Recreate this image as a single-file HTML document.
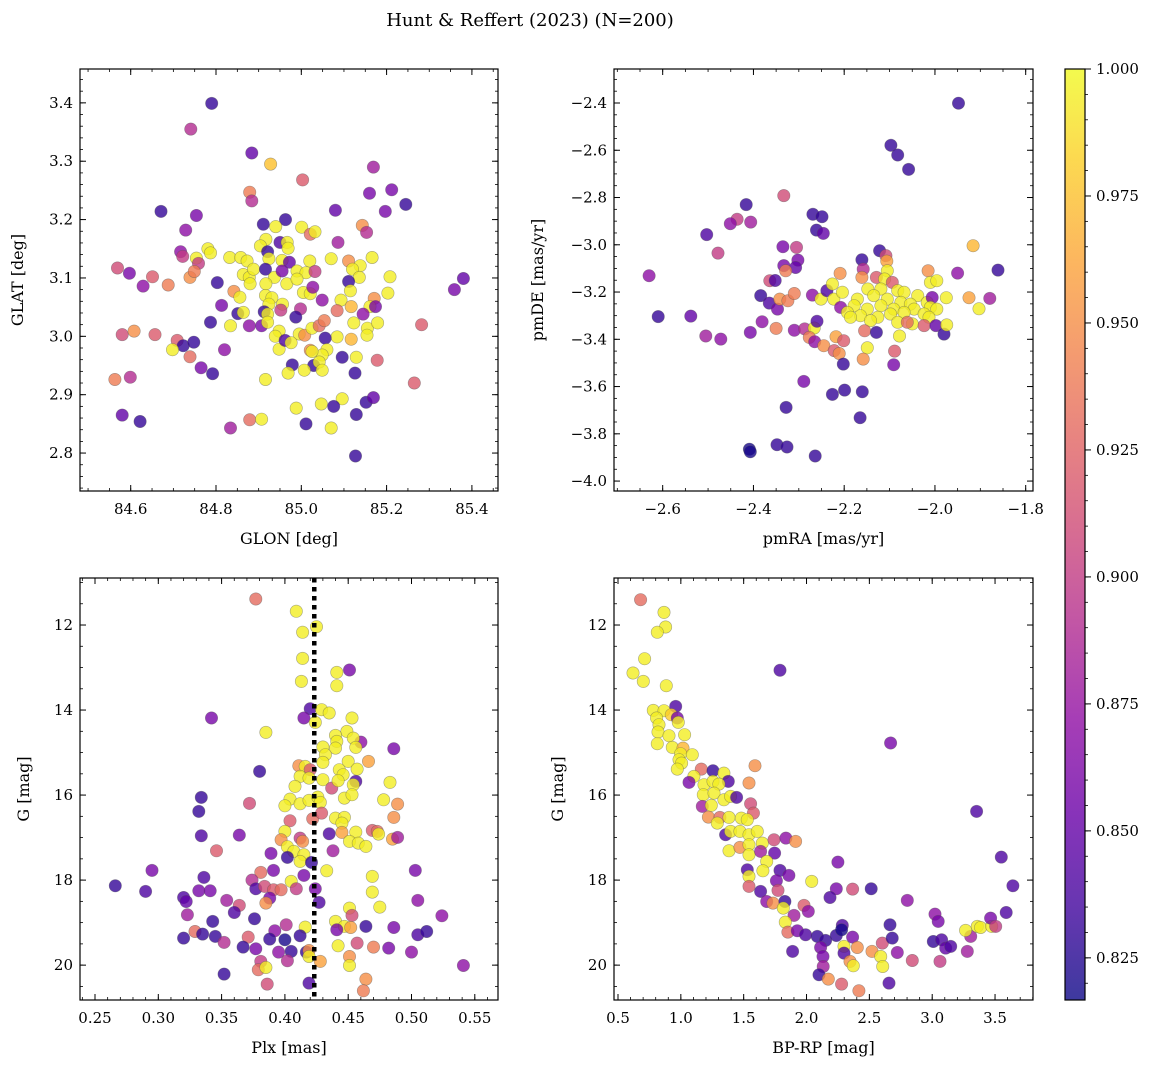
<!DOCTYPE html>
<html><head><meta charset="utf-8"><title>Hunt & Reffert (2023)</title>
<style>
html,body{margin:0;padding:0;background:#fff;}
svg{display:block;font-family:"DejaVu Serif","Liberation Serif",serif;}
</style></head>
<body>
<svg id="fig" width="1161" height="1068" viewBox="0 0 1161 1068" xmlns="http://www.w3.org/2000/svg">
<text x="530" y="26" text-anchor="middle" font-size="18">Hunt &amp; Reffert (2023) (N=200)</text>
</svg>
<script>
// ---------- Panel A: GLON vs GLAT ----------
const glon=[84.790,84.741,84.884,84.928,85.003,85.169,84.879,84.884,85.160,85.212,85.245,85.080,85.197,84.671,84.754,84.729,84.911,84.963,84.940,85.001,85.021,85.032,85.143,85.153,85.086,84.917,84.904,84.950,84.967,84.969,84.921,84.717,84.722,84.781,84.787,84.754,84.759,84.832,84.858,84.873,84.924,84.955,84.972,85.020,85.070,85.166,85.111,85.138,85.120,84.569,84.597,84.651,84.629,84.688,84.739,84.749,84.803,84.864,84.878,84.888,84.916,84.937,84.955,84.990,85.011,85.032,85.136,85.111,85.208,85.380,85.359,84.880,84.917,84.966,84.990,84.842,84.856,84.916,84.931,85.005,85.021,85.027,85.049,85.115,85.203,85.171,85.093,85.117,85.161,85.174,84.813,84.924,84.956,84.952,84.998,84.913,84.851,84.864,84.921,84.987,85.084,85.145,84.787,84.834,84.878,84.907,84.921,84.948,84.939,84.995,85.008,85.025,85.042,85.054,85.123,85.155,85.179,85.154,85.084,85.117,85.056,84.580,84.608,84.657,84.709,84.723,84.748,84.698,84.820,84.948,84.962,84.976,85.021,85.060,85.049,85.025,85.129,85.096,85.178,84.739,84.765,84.792,84.979,85.029,85.042,85.049,85.007,84.969,85.126,84.563,84.599,84.916,85.265,85.096,85.047,85.076,84.988,85.152,85.169,85.129,84.580,84.622,84.879,84.907,85.011,85.070,84.834,85.282,85.127];
const glat=[3.399,3.355,3.314,3.295,3.268,3.290,3.247,3.232,3.245,3.251,3.226,3.216,3.214,3.214,3.207,3.182,3.192,3.200,3.188,3.187,3.175,3.179,3.190,3.178,3.161,3.166,3.155,3.161,3.161,3.151,3.145,3.145,3.137,3.150,3.143,3.134,3.125,3.135,3.135,3.129,3.133,3.130,3.127,3.129,3.133,3.135,3.129,3.121,3.115,3.117,3.108,3.102,3.086,3.088,3.101,3.111,3.092,3.106,3.101,3.115,3.115,3.101,3.112,3.112,3.109,3.111,3.101,3.094,3.102,3.099,3.080,3.090,3.090,3.090,3.098,3.077,3.067,3.070,3.066,3.075,3.073,3.084,3.062,3.078,3.074,3.065,3.062,3.051,3.051,3.051,3.053,3.055,3.055,3.045,3.047,3.042,3.039,3.041,3.038,3.033,3.044,3.038,3.024,3.018,3.018,3.018,3.024,3.009,3.000,3.004,3.002,3.014,3.018,3.027,3.023,3.014,3.023,3.002,2.999,2.995,2.997,3.003,3.009,3.003,2.993,2.984,2.990,2.977,2.977,2.978,2.993,2.989,2.976,2.977,2.968,2.974,2.964,2.964,2.959,2.965,2.946,2.936,2.951,2.950,2.956,2.942,2.942,2.937,2.937,2.926,2.930,2.926,2.920,2.893,2.884,2.880,2.877,2.887,2.895,2.866,2.865,2.854,2.857,2.858,2.850,2.843,2.843,3.020,2.795];
const probA=[.83,.89,.85,.975,.92,.88,.94,.89,.86,.86,.83,.85,.86,.83,.86,.87,.83,.83,.995,.995,.93,.995,.95,.89,.88,.995,.995,.84,.995,.995,.83,.87,.90,.995,.995,.995,.90,.995,.995,.995,.995,.995,.85,.995,.995,.995,.95,.995,.995,.91,.86,.92,.87,.94,.95,.94,.83,.995,.995,.995,.83,.995,.86,.995,.995,.90,.995,.83,.995,.85,.86,.995,.995,.995,.995,.95,.995,.995,.995,.995,.995,.87,.87,.995,.995,.95,.995,.97,.995,.86,.86,.995,.995,.90,.89,.83,.83,.995,.995,.83,.93,.87,.83,.995,.87,.86,.995,.995,.995,.995,.95,.995,.93,.94,.995,.995,.995,.995,.995,.97,.83,.91,.95,.92,.92,.83,.83,.995,.87,.995,.84,.995,.95,.995,.995,.995,.995,.83,.92,.93,.86,.83,.83,.83,.995,.995,.995,.995,.83,.94,.89,.995,.92,.995,.995,.83,.995,.83,.85,.83,.85,.83,.93,.995,.83,.995,.88,.92,.83];
const ticksAx=[84.6,84.8,85.0,85.2,85.4];
const ticksAy=[2.8,2.9,3.0,3.1,3.2,3.3,3.4];

// ---------- Panel B: pmRA vs pmDE ----------
const pmra=[-1.948,-2.097,-2.082,-2.058,-2.333,-2.416,-2.269,-2.249,-2.261,-2.246,-2.436,-2.451,-2.406,-2.503,-2.478,-2.630,-2.335,-2.305,-2.302,-2.333,-2.307,-2.329,-2.364,-2.352,-2.384,-2.365,-2.347,-2.342,-2.324,-2.310,-2.270,-2.251,-2.238,-2.226,-2.223,-2.204,-2.209,-2.208,-2.161,-2.158,-2.161,-2.122,-2.108,-2.106,-2.105,-2.129,-2.111,-2.094,-2.148,-2.119,-2.082,-2.068,-2.038,-2.171,-2.135,-2.105,-2.075,-2.054,-2.017,-2.006,-2.178,-2.149,-2.119,-2.091,-2.046,-2.010,-1.996,-2.193,-2.164,-2.126,-2.098,-2.068,-2.024,-2.186,-2.142,-2.082,-2.050,-2.013,-2.024,-2.061,-1.998,-1.980,-1.974,-2.015,-2.010,-1.996,-1.975,-1.950,-1.916,-1.861,-1.925,-1.903,-1.879,-2.610,-2.538,-2.505,-2.472,-2.407,-2.381,-2.350,-2.310,-2.287,-2.266,-2.260,-2.277,-2.265,-2.245,-2.218,-2.201,-2.222,-2.211,-2.202,-2.155,-2.129,-2.149,-2.158,-2.089,-2.078,-2.091,-2.289,-2.226,-2.199,-2.160,-2.328,-2.165,-2.409,-2.407,-2.348,-2.326,-2.264];
const pmde=[-2.401,-2.579,-2.620,-2.681,-2.792,-2.830,-2.871,-2.881,-2.938,-2.952,-2.892,-2.911,-2.904,-2.957,-3.035,-3.131,-3.008,-3.011,-3.065,-3.088,-3.096,-3.110,-3.152,-3.151,-3.215,-3.247,-3.272,-3.230,-3.237,-3.206,-3.213,-3.230,-3.194,-3.166,-3.230,-3.201,-3.121,-3.265,-3.063,-3.103,-3.138,-3.025,-3.046,-3.069,-3.110,-3.138,-3.145,-3.159,-3.187,-3.187,-3.194,-3.201,-3.215,-3.230,-3.215,-3.230,-3.244,-3.251,-3.244,-3.223,-3.258,-3.272,-3.258,-3.272,-3.272,-3.265,-3.272,-3.286,-3.300,-3.307,-3.293,-3.286,-3.293,-3.307,-3.321,-3.328,-3.335,-3.307,-3.342,-3.328,-3.342,-3.378,-3.339,-3.110,-3.159,-3.152,-3.224,-3.120,-3.004,-3.107,-3.224,-3.271,-3.227,-3.304,-3.302,-3.386,-3.399,-3.371,-3.326,-3.354,-3.362,-3.356,-3.352,-3.324,-3.392,-3.410,-3.427,-3.389,-3.406,-3.448,-3.460,-3.505,-3.364,-3.371,-3.436,-3.484,-3.450,-3.386,-3.508,-3.578,-3.633,-3.615,-3.622,-3.688,-3.732,-3.865,-3.876,-3.846,-3.856,-3.894];
const probB=[.83,.83,.83,.83,.91,.83,.83,.83,.83,.85,.90,.87,.88,.84,.90,.87,.86,.90,.86,.86,.85,.94,.91,.84,.83,.84,.86,.95,.94,.94,.87,.995,.84,.995,.995,.995,.95,.87,.83,.89,.95,.83,.91,.96,.995,.92,.995,.92,.995,.995,.995,.995,.995,.995,.995,.995,.995,.995,.995,.86,.995,.995,.995,.995,.995,.995,.995,.995,.995,.995,.995,.995,.995,.995,.995,.995,.995,.995,.92,.93,.85,.83,.995,.95,.995,.995,.995,.87,.97,.83,.96,.995,.88,.83,.85,.88,.87,.86,.87,.94,.87,.89,.995,.84,.94,.87,.95,.96,.92,.92,.95,.83,.93,.83,.995,.95,.92,.995,.86,.86,.83,.83,.83,.83,.83,.82,.82,.83,.83,.83];
const ticksBx=[-2.6,-2.4,-2.2,-2.0,-1.8];
const ticksBy=[-4.0,-3.8,-3.6,-3.4,-3.2,-3.0,-2.8,-2.6,-2.4];

// ---------- Panel C: Plx vs G ----------
const plx=[.377,.409,.425,.414,.414,.413,.441,.441,.451,.342,.420,.415,.429,.435,.424,.453,.385,.449,.440,.441,.460,.454,.456,.430,.440,.432,.486,.380,.411,.416,.420,.430,.450,.466,.443,.457,.412,.419,.430,.446,.456,.437,.408,.442,.454,.483,.334,.332,.372,.404,.400,.412,.419,.426,.428,.447,.453,.478,.489,.486,.404,.422,.429,.440,.447,.445,.400,.397,.412,.414,.435,.445,.456,.469,.473,.474,.485,.489,.451,.458,.464,.334,.364,.346,.389,.402,.407,.415,.402,.412,.438,.421,.433,.295,.336,.381,.391,.415,.503,.469,.469,.266,.290,.332,.341,.374,.377,.384,.391,.397,.405,.409,.424,.320,.322,.354,.364,.388,.385,.427,.475,.451,.453,.505,.323,.360,.343,.376,.524,.401,.416,.440,.447,.452,.464,.486,.320,.329,.335,.345,.352,.371,.392,.388,.400,.412,.441,.505,.512,.367,.377,.395,.405,.417,.419,.419,.428,.442,.457,.470,.482,.500,.451,.451,.381,.379,.385,.402,.352,.541,.386,.419,.464,.462];
const gA=[11.388,11.678,12.039,12.172,12.784,13.325,13.114,13.427,13.059,14.188,13.968,14.188,13.992,14.070,14.290,14.188,14.525,14.502,14.596,14.737,14.753,14.659,14.878,14.870,14.894,15.051,14.910,15.443,15.310,15.325,15.404,15.231,15.208,15.208,15.404,15.388,15.561,15.600,15.639,15.521,15.678,15.835,15.796,15.662,15.757,15.702,16.055,16.384,16.196,16.094,16.251,16.204,16.125,16.047,16.172,16.070,15.992,16.110,16.212,16.525,16.604,16.557,16.423,16.541,16.525,16.659,16.855,17.051,17.012,17.090,16.910,16.878,16.870,16.831,16.855,16.917,17.035,16.996,17.090,17.129,17.208,16.957,16.941,17.310,17.372,17.215,17.325,17.404,17.466,17.561,17.310,17.584,17.780,17.772,17.937,17.819,17.772,17.890,17.772,17.913,18.282,18.133,18.266,18.251,18.251,18.000,18.204,18.149,18.227,18.227,18.031,18.204,18.204,18.408,18.502,18.478,18.596,18.423,18.541,18.525,18.635,18.659,18.831,18.478,18.815,18.761,18.972,18.910,18.839,19.051,19.106,18.972,19.090,19.114,19.090,19.114,19.364,19.208,19.270,19.325,19.466,19.341,19.192,19.388,19.404,19.310,19.168,19.286,19.208,19.576,19.615,19.694,19.678,19.694,19.655,19.796,19.913,19.545,19.482,19.576,19.600,19.694,19.796,20.008,19.913,20.110,20.055,19.898,20.211,20.008,20.447,20.423,20.329,20.604];
const probC=[.93,.995,.995,.995,.995,.995,.995,.995,.86,.86,.84,.86,.995,.995,.995,.995,.995,.995,.995,.995,.87,.995,.995,.995,.995,.995,.86,.83,.95,.995,.92,.995,.995,.96,.995,.995,.995,.995,.995,.995,.84,.91,.995,.995,.995,.995,.83,.83,.91,.995,.995,.995,.995,.995,.995,.995,.995,.995,.95,.95,.92,.93,.92,.995,.995,.995,.995,.95,.90,.95,.84,.96,.995,.92,.93,.995,.96,.88,.995,.995,.995,.84,.86,.92,.86,.995,.995,.995,.83,.995,.88,.83,.995,.86,.84,.93,.86,.86,.86,.995,.995,.83,.84,.86,.86,.89,.84,.91,.92,.93,.995,.90,.86,.84,.85,.88,.91,.86,.95,.84,.995,.995,.91,.87,.88,.84,.83,.83,.87,.89,.995,.995,.995,.96,.83,.86,.83,.93,.83,.83,.89,.92,.87,.83,.82,.83,.86,.84,.83,.83,.86,.87,.83,.83,.95,.995,.96,.995,.91,.94,.86,.87,.95,.995,.90,.93,.995,.89,.83,.87,.91,.84,.95,.94];
const ticksCx=[0.25,0.30,0.35,0.40,0.45,0.50,0.55];
const ticksCy=[12,14,16,18,20];
const plxMedian=[0.4232];

// ---------- Panel D: BP-RP vs G ----------
const bprp=[.680,.866,.879,.813,.712,.619,.701,.884,1.789,2.669,.959,.781,.866,.924,.972,.980,.807,.826,.818,.906,1.030,.813,.932,1.017,.998,1.091,.985,1.006,.972,1.163,1.256,1.343,1.104,1.065,1.378,1.542,1.590,1.184,1.256,1.303,1.179,1.264,1.343,1.396,1.444,1.171,1.242,1.555,1.577,1.219,1.311,1.383,1.481,1.529,1.290,1.356,1.396,1.470,1.542,1.608,1.648,1.741,1.836,1.913,1.383,1.470,1.542,1.542,1.635,1.746,1.683,1.529,1.542,1.542,1.653,1.789,1.860,1.760,2.041,2.250,2.515,2.367,2.237,2.187,1.635,1.683,1.773,1.733,1.828,1.815,1.900,1.980,2.014,1.831,1.852,1.927,1.993,2.086,2.152,2.237,2.285,2.279,2.367,1.889,2.112,2.131,2.298,2.298,2.404,2.346,2.372,2.133,2.099,2.173,2.279,2.417,2.521,2.590,2.606,2.603,2.664,2.682,2.722,2.842,2.802,2.656,3.009,3.075,3.107,3.147,3.022,3.048,3.062,3.279,3.306,3.266,3.359,3.385,3.473,3.465,3.505,3.589,3.642,3.550,3.353];
const gB=[11.404,11.702,12.047,12.172,12.792,13.129,13.325,13.427,13.066,14.776,13.914,14.008,14.016,14.110,14.188,14.290,14.188,14.345,14.517,14.604,14.580,14.792,14.878,14.894,15.027,15.051,15.168,15.247,15.388,15.388,15.427,15.482,15.561,15.702,15.678,15.717,15.310,15.757,15.678,15.741,15.992,15.953,16.110,16.031,16.055,16.267,16.243,16.204,16.423,16.518,16.525,16.525,16.541,16.580,16.659,16.933,16.855,16.855,16.933,16.855,17.129,17.051,17.012,17.090,17.310,17.231,17.168,17.404,17.325,17.364,17.561,17.757,17.913,18.149,17.780,17.772,17.890,18.015,18.031,17.576,18.204,18.212,18.204,18.408,18.266,18.502,18.243,18.541,18.502,18.659,18.831,18.596,18.737,18.988,19.223,19.192,19.286,19.325,19.419,19.302,19.066,19.168,19.341,19.678,19.584,19.796,19.560,19.717,19.584,19.913,20.015,20.031,20.227,20.329,20.447,20.604,19.678,19.796,20.031,19.482,19.051,19.364,19.702,19.890,18.478,20.423,19.443,19.404,19.600,19.560,18.800,18.972,19.913,19.678,19.325,19.184,19.090,19.114,19.090,18.894,19.090,18.761,18.133,17.459,16.384];
const probD=[.93,.995,.995,.995,.995,.995,.995,.995,.84,.86,.84,.995,.995,.98,.86,.995,.995,.995,.995,.995,.995,.995,.995,.97,.995,.995,.995,.995,.995,.93,.83,.995,.995,.86,.84,.95,.95,.995,.995,.995,.995,.995,.995,.995,.84,.88,.995,.91,.92,.95,.93,.995,.995,.995,.995,.84,.995,.995,.995,.995,.995,.91,.87,.95,.995,.95,.995,.995,.88,.85,.995,.84,.995,.92,.995,.84,.86,.86,.995,.86,.83,.91,.86,.84,.84,.87,.91,.95,.83,.995,.88,.92,.87,.995,.93,.86,.84,.83,.83,.83,.84,.82,.86,.84,.86,.86,.995,.84,.95,.95,.995,.88,.83,.95,.92,.94,.95,.995,.995,.91,.83,.83,.87,.91,.87,.84,.83,.84,.85,.84,.87,.86,.90,.88,.88,.995,.995,.995,.995,.86,.90,.84,.84,.84,.84];
const ticksDx=[0.5,1.0,1.5,2.0,2.5,3.0,3.5];
const ticksDy=[12,14,16,18,20];

// ---------- Colorbar ----------
const cbarTicks=[0.825,0.850,0.875,0.900,0.925,0.950,0.975,1.000];
const cbarRange=[0.8167,1.0];

const NS="http://www.w3.org/2000/svg";
const svg=document.getElementById('fig');
function mk(tag,attrs,parent){const e=document.createElementNS(NS,tag);for(const k in attrs)e.setAttribute(k,attrs[k]);(parent||svg).appendChild(e);return e;}
const plasmaStops=["#0d0887","#41049d","#6a00a8","#8f0da4","#b12a90","#cc4778","#e16462","#f2844b","#fca636","#fcce25","#f0f921"];
function hex(h){return [parseInt(h.slice(1,3),16),parseInt(h.slice(3,5),16),parseInt(h.slice(5,7),16)];}
function plasma(t){t=Math.max(0,Math.min(1,t));const s=t*10,i=Math.min(9,Math.floor(s)),f=s-i;const a=hex(plasmaStops[i]),b=hex(plasmaStops[i+1]);return `rgb(${a.map((v,k)=>Math.round(v+(b[k]-v)*f)).join(',')})`;}
function pcol(p){return plasma((p-cbarRange[0])/(cbarRange[1]-cbarRange[0]));}
function fmt(v,d){const s=Math.abs(v).toFixed(d);return (v<0?'\u2212':'')+s;}

function panel(o){
  const g=mk('g',{});
  
  
  const sx=v=>o.L+(v-o.x0)/(o.x1-o.x0)*(o.R-o.L);
  const sy=v=>o.B-(v-o.y0)/(o.y1-o.y0)*(o.B-o.T);
  const cp=mk('clipPath',{id:'clip-'+o.name},g);
  mk('rect',{x:o.L,y:o.T,width:o.R-o.L,height:o.B-o.T},cp);
  const pts=mk('g',{'clip-path':`url(#clip-${o.name})`},g);
  
  
  for(let i=0;i<o.xs.length;i++){
    const c=mk('circle',{cx:sx(o.xs[i]).toFixed(1),cy:sy(o.ys[i]).toFixed(1),r:6.2,fill:pcol(o.ps[i]),'fill-opacity':0.8,stroke:'#555','stroke-opacity':0.5,'stroke-width':0.6},pts);
    
    
  }
  if(o.extra)o.extra(pts,sx,sy);
  const fr=mk('rect',{x:o.L,y:o.T,width:o.R-o.L,height:o.B-o.T,fill:'none',stroke:'#000','stroke-width':1.2},g);
  
  
  const lo=Math.min(o.x0,o.x1),hi=Math.max(o.x0,o.x1);
  for(let v=Math.ceil(lo/o.mx-1e-6)*o.mx;v<=hi+1e-9;v+=o.mx){const x=sx(v);mk('line',{x1:x,x2:x,y1:o.B,y2:o.B-3,stroke:'#000','stroke-width':0.8},g);mk('line',{x1:x,x2:x,y1:o.T,y2:o.T+3,stroke:'#000','stroke-width':0.8},g);}
  const ylo=Math.min(o.y0,o.y1),yhi=Math.max(o.y0,o.y1);
  for(let v=Math.ceil(ylo/o.my-1e-6)*o.my;v<=yhi+1e-9;v+=o.my){const y=sy(v);mk('line',{x1:o.L,x2:o.L+3,y1:y,y2:y,stroke:'#000','stroke-width':0.8},g);mk('line',{x1:o.R,x2:o.R-3,y1:y,y2:y,stroke:'#000','stroke-width':0.8},g);}
  o.tx.forEach(v=>{const x=sx(v);mk('line',{x1:x,x2:x,y1:o.B,y2:o.B-6,stroke:'#000','stroke-width':1},g);mk('line',{x1:x,x2:x,y1:o.T,y2:o.T+6,stroke:'#000','stroke-width':1},g);
    const t=mk('text',{x:x,y:o.B+23,'text-anchor':'middle','font-size':15},g);t.textContent=fmt(v,o.dx);
    });
  o.ty.forEach(v=>{const y=sy(v);mk('line',{x1:o.L,x2:o.L+6,y1:y,y2:y,stroke:'#000','stroke-width':1},g);mk('line',{x1:o.R,x2:o.R-6,y1:y,y2:y,stroke:'#000','stroke-width':1},g);
    const t=mk('text',{x:o.L-7,y:y+5,'text-anchor':'end','font-size':15},g);t.textContent=fmt(v,o.dy);
    });
  const xl=mk('text',{x:(o.L+o.R)/2,y:o.B+53,'text-anchor':'middle','font-size':16},g);xl.textContent=o.xlab;
  
  const yc=(o.T+o.B)/2;
  const yl=mk('text',{x:o.ylx,y:yc,'text-anchor':'middle','font-size':16,transform:`rotate(-90 ${o.ylx} ${yc})`},g);yl.textContent=o.ylab;
  
}

panel({name:'glon-glat-panel',L:80,R:498,T:69,B:491,x0:84.4811,x1:85.4612,y0:2.735,y1:3.458,xs:glon,ys:glat,ps:probA,tx:ticksAx,ty:ticksAy,dx:1,dy:1,mx:0.05,my:0.02,xlab:'GLON [deg]',ylab:'GLAT [deg]',ylx:23});
panel({name:'proper-motion-panel',L:614,R:1033,T:69,B:491,x0:-2.7073,x1:-1.7839,y0:-4.042,y1:-2.2561,xs:pmra,ys:pmde,ps:probB,tx:ticksBx,ty:ticksBy,dx:1,dy:1,mx:0.05,my:0.05,xlab:'pmRA [mas/yr]',ylab:'pmDE [mas/yr]',ylx:543});
panel({name:'parallax-panel',L:80,R:498,T:578,B:1000,x0:0.23815,x1:0.56833,y0:20.82,y1:10.894,xs:plx,ys:gA,ps:probC,tx:ticksCx,ty:ticksCy,dx:2,dy:0,mx:0.01,my:0.5,xlab:'Plx [mas]',ylab:'G [mag]',ylx:29,
  extra:(g,sx,sy)=>{const x=sx(plxMedian[0]);const l=mk('line',{x1:x,x2:x,y1:578,y2:1000,stroke:'#000','stroke-width':4.5,'stroke-dasharray':'4.5 4.5'},g);}});
panel({name:'cmd-panel',L:614,R:1033,T:578,B:1000,x0:0.4682,x1:3.802,y0:20.82,y1:10.894,xs:bprp,ys:gB,ps:probD,tx:ticksDx,ty:ticksDy,dx:1,dy:0,mx:0.1,my:0.5,xlab:'BP-RP [mag]',ylab:'G [mag]',ylx:563});

(function(){
  const L=1065,R=1085,T=69,B=1000;
  const g=mk('g',{});
  
  
  const defs=mk('defs',{},g);
  const lg=mk('linearGradient',{id:'cbg',x1:0,y1:1,x2:0,y2:0},defs);
  for(let i=0;i<=20;i++){mk('stop',{offset:i/20,'stop-color':plasma(i/20),'stop-opacity':0.8},lg);}
  mk('rect',{x:L,y:T,width:R-L,height:B-T,fill:'url(#cbg)'},g);
  mk('rect',{x:L,y:T,width:R-L,height:B-T,fill:'none',stroke:'#000','stroke-width':1.2},g);
  const sy=v=>B-(v-cbarRange[0])/(cbarRange[1]-cbarRange[0])*(B-T);
  for(let v=0.82;v<=1.0001;v+=0.005){if(v<cbarRange[0])continue;const y=sy(v);mk('line',{x1:R,x2:R+3,y1:y,y2:y,stroke:'#000','stroke-width':0.8},g);}
  cbarTicks.forEach(v=>{const y=sy(v);mk('line',{x1:R,x2:R+6,y1:y,y2:y,stroke:'#000','stroke-width':1},g);
    const t=mk('text',{x:R+11,y:y+5,'font-size':15},g);t.textContent=v.toFixed(3);
    });
})();
</script>
</body></html>
